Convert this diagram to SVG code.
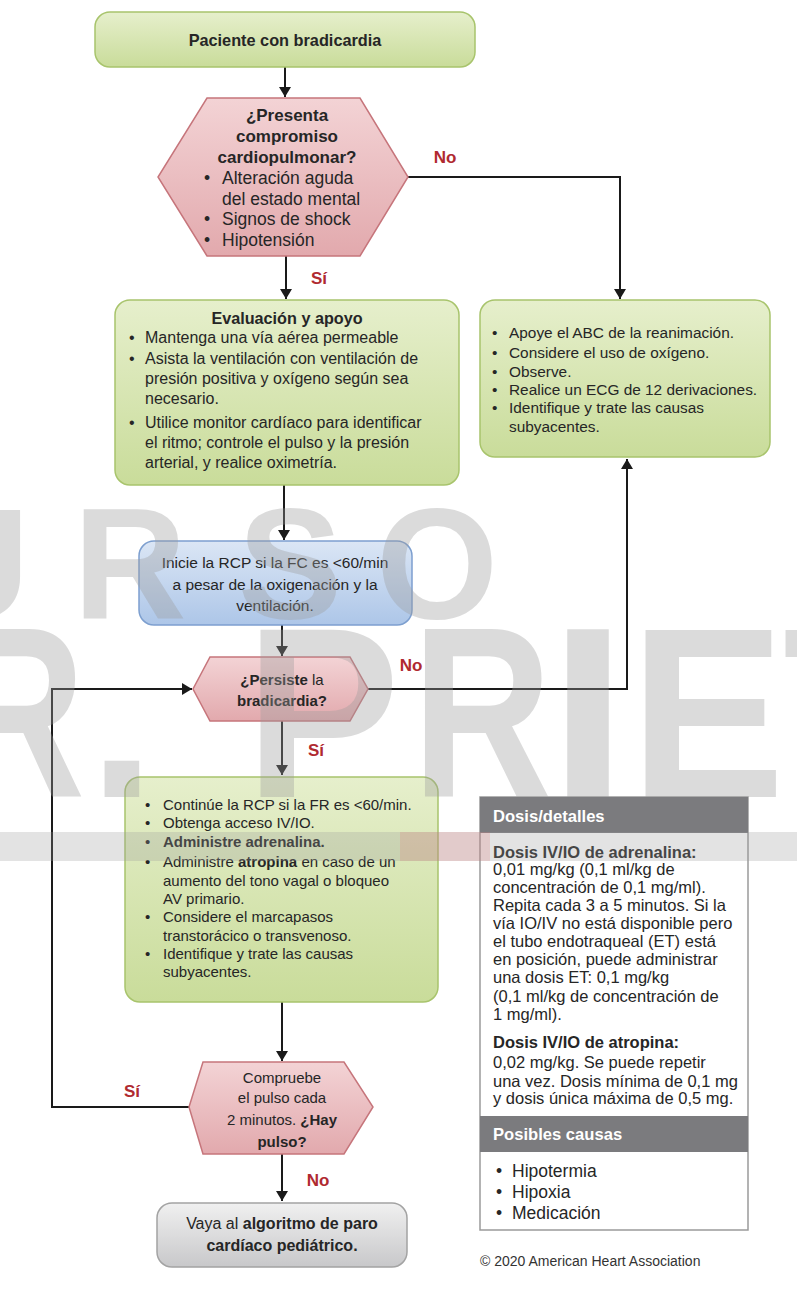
<svg xmlns="http://www.w3.org/2000/svg" width="797" height="1289" viewBox="0 0 797 1289">
<defs>
<linearGradient id="gGreen" x1="0" y1="0" x2="0" y2="1"><stop offset="0" stop-color="#e6efcc"/><stop offset="1" stop-color="#c9dc9a"/></linearGradient>
<linearGradient id="gRed" x1="0" y1="0" x2="0" y2="1"><stop offset="0" stop-color="#f3d3d5"/><stop offset="1" stop-color="#e2a9ad"/></linearGradient>
<linearGradient id="gBlue" x1="0" y1="0" x2="0" y2="1"><stop offset="0" stop-color="#dbe6f5"/><stop offset="1" stop-color="#adc6e8"/></linearGradient>
<linearGradient id="gGray" x1="0" y1="0" x2="0" y2="1"><stop offset="0" stop-color="#f0f0f0"/><stop offset="1" stop-color="#c8c8ca"/></linearGradient>
<marker id="arr" viewBox="0 0 10 12" refX="10" refY="6" markerWidth="10" markerHeight="12" markerUnits="userSpaceOnUse" orient="auto"><path d="M0,0 L10,6 L0,12 Z" fill="#1a1a1a"/></marker>
<style>
text{font-family:"Liberation Sans",Arial,sans-serif;fill:#262626}
.b{font-weight:bold}
.green{fill:url(#gGreen);stroke:#a8c46c;stroke-width:1.5}
.red{fill:url(#gRed);stroke:#c6757b;stroke-width:1.5}
.blue{fill:url(#gBlue);stroke:#7d9fcf;stroke-width:1.5}
.gray{fill:url(#gGray);stroke:#a3a3a3;stroke-width:1.5}
.lbl{fill:#b02a30;font-weight:bold;font-size:17px}
.conn{fill:none;stroke:#1a1a1a;stroke-width:2}
.wm{fill:#9a9a9a;fill-opacity:0.36;font-family:"Liberation Sans",Arial,sans-serif;font-weight:bold}
</style>
</defs>

<g id="connectors">
<path class="conn" d="M285,67 V97" marker-end="url(#arr)"/>
<path class="conn" d="M286,256 V299" marker-end="url(#arr)"/>
<path class="conn" d="M408,177 H620 V299" marker-end="url(#arr)"/>
<path class="conn" d="M284,485 V540" marker-end="url(#arr)"/>
<path class="conn" d="M282,625 V656" marker-end="url(#arr)"/>
<path class="conn" d="M368,689 H627 V459" marker-end="url(#arr)"/>
<path class="conn" d="M282,721 V775" marker-end="url(#arr)"/>
<path class="conn" d="M282,1002 V1061" marker-end="url(#arr)"/>
<path class="conn" d="M189,1107 H52 V689 H192" marker-end="url(#arr)"/>
<path class="conn" d="M282,1154 V1201" marker-end="url(#arr)"/>
<text class="lbl" x="445" y="163" text-anchor="middle">No</text>
<text class="lbl" x="319" y="284" text-anchor="middle">Sí</text>
<text class="lbl" x="411" y="671" text-anchor="middle">No</text>
<text class="lbl" x="316" y="756" text-anchor="middle">Sí</text>
<text class="lbl" x="132" y="1097" text-anchor="middle">Sí</text>
<text class="lbl" x="318" y="1186" text-anchor="middle">No</text>
</g>

<g id="start">
<rect class="green" x="95" y="12" width="380" height="55" rx="15"/>
<text class="b" font-size="16.3" x="285" y="46" text-anchor="middle">Paciente con bradicardia</text>
</g>

<g id="decision1">
<polygon class="red" points="207,98 360,98 408,177 360,256 207,256 158,177"/>
<g class="b" font-size="17">
<text x="287" y="121" text-anchor="middle">¿Presenta</text>
<text x="287" y="142" text-anchor="middle">compromiso</text>
<text x="287" y="163" text-anchor="middle">cardiopulmonar?</text>
</g>
<g font-size="17.5">
<text x="204" y="184">•</text><text x="222" y="184">Alteración aguda</text>
<text x="222" y="205">del estado mental</text>
<text x="204" y="225">•</text><text x="222" y="225">Signos de shock</text>
<text x="204" y="246">•</text><text x="222" y="246">Hipotensión</text>
</g>
</g>

<g id="evaluacion">
<rect class="green" x="115" y="300" width="344" height="185" rx="15"/>
<text class="b" font-size="16.2" x="287" y="324" text-anchor="middle">Evaluación y apoyo</text>
<g font-size="16">
<text x="129" y="343">•</text><text x="145" y="343">Mantenga una vía aérea permeable</text>
<text x="129" y="364">•</text><text x="145" y="364">Asista la ventilación con ventilación de</text>
<text x="145" y="384">presión positiva y oxígeno según sea</text>
<text x="145" y="404">necesario.</text>
<text x="129" y="428">•</text><text x="145" y="428">Utilice monitor cardíaco para identificar</text>
<text x="145" y="448">el ritmo; controle el pulso y la presión</text>
<text x="145" y="468">arterial, y realice oximetría.</text>
</g>
</g>

<g id="soporte">
<rect class="green" x="480" y="300" width="290" height="157" rx="15"/>
<g font-size="15.4">
<text x="492" y="338">•</text><text x="509" y="338">Apoye el ABC de la reanimación.</text>
<text x="492" y="358">•</text><text x="509" y="358">Considere el uso de oxígeno.</text>
<text x="492" y="377">•</text><text x="509" y="377">Observe.</text>
<text x="492" y="395">•</text><text x="509" y="395">Realice un ECG de 12 derivaciones.</text>
<text x="492" y="413">•</text><text x="509" y="413">Identifique y trate las causas</text>
<text x="509" y="432">subyacentes.</text>
</g>
</g>

<g id="rcp">
<rect class="blue" x="139" y="541" width="273" height="84" rx="15"/>
<g font-size="15.5">
<text x="275" y="568" text-anchor="middle">Inicie la RCP si la FC es &lt;60/min</text>
<text x="275" y="590" text-anchor="middle">a pesar de la oxigenación y la</text>
<text x="275" y="611" text-anchor="middle">ventilación.</text>
</g>
</g>

<g id="decision2">
<polygon class="red" points="210,657 350,657 368,689 350,721 210,721 193,689"/>
<text font-size="15" x="282" y="685" text-anchor="middle"><tspan class="b">¿Persiste</tspan> la</text>
<text class="b" font-size="15" x="282" y="706" text-anchor="middle">bradicardia?</text>
</g>

<g id="acciones">
<rect class="green" x="125" y="777" width="313" height="225" rx="15"/>
<g font-size="15">
<text x="145" y="810">•</text><text x="163" y="810">Continúe la RCP si la FR es &lt;60/min.</text>
<text x="145" y="828">•</text><text x="163" y="828">Obtenga acceso IV/IO.</text>
<text x="145" y="847">•</text><text class="b" x="163" y="847">Administre adrenalina.</text>
<text x="145" y="867">•</text><text x="163" y="867">Administre <tspan class="b">atropina</tspan> en caso de un</text>
<text x="163" y="886">aumento del tono vagal o bloqueo</text>
<text x="163" y="904">AV primario.</text>
<text x="145" y="922">•</text><text x="163" y="922">Considere el marcapasos</text>
<text x="163" y="941">transtorácico o transvenoso.</text>
<text x="145" y="959">•</text><text x="163" y="959">Identifique y trate las causas</text>
<text x="163" y="977">subyacentes.</text>
</g>
</g>

<g id="decision3">
<polygon class="red" points="203,1062 344,1062 373,1107 344,1154 203,1154 189,1107"/>
<g font-size="15">
<text x="282" y="1083" text-anchor="middle">Compruebe</text>
<text x="282" y="1103" text-anchor="middle">el pulso cada</text>
<text x="282" y="1125" text-anchor="middle">2 minutos. <tspan class="b">¿Hay</tspan></text>
<text class="b" x="282" y="1147" text-anchor="middle">pulso?</text>
</g>
</g>

<g id="paro">
<rect class="gray" x="157" y="1203" width="250" height="64" rx="15"/>
<g font-size="16">
<text x="282" y="1229" text-anchor="middle">Vaya al <tspan class="b">algoritmo de paro</tspan></text>
<text class="b" x="282" y="1251" text-anchor="middle">cardíaco pediátrico.</text>
</g>
</g>

<g id="dosis">
<rect x="480" y="797" width="268" height="433" fill="#ffffff" stroke="#9a9a9a" stroke-width="1.5"/>
<rect x="480" y="797" width="268" height="36" fill="#7b7b7e"/>
<text class="b" font-size="16.6" x="493" y="822" style="fill:#ffffff">Dosis/detalles</text>
<g font-size="16.5">
<text class="b" x="493" y="858">Dosis IV/IO de adrenalina:</text>
<text x="493" y="875">0,01 mg/kg (0,1 ml/kg de</text>
<text x="493" y="893">concentración de 0,1 mg/ml).</text>
<text x="493" y="911">Repita cada 3 a 5 minutos. Si la</text>
<text x="493" y="929">vía IO/IV no está disponible pero</text>
<text x="493" y="947">el tubo endotraqueal (ET) está</text>
<text x="493" y="965">en posición, puede administrar</text>
<text x="493" y="983">una dosis ET: 0,1 mg/kg</text>
<text x="493" y="1002">(0,1 ml/kg de concentración de</text>
<text x="493" y="1020">1 mg/ml).</text>
<text class="b" x="493" y="1048">Dosis IV/IO de atropina:</text>
<text x="493" y="1068">0,02 mg/kg. Se puede repetir</text>
<text x="493" y="1087">una vez. Dosis mínima de 0,1 mg</text>
<text x="493" y="1104">y dosis única máxima de 0,5 mg.</text>
</g>
<rect x="480" y="1116" width="268" height="36" fill="#7b7b7e"/>
<text class="b" font-size="16.6" x="493" y="1140" style="fill:#ffffff">Posibles causas</text>
<g font-size="17.5">
<text x="496" y="1177">•</text><text x="512" y="1177">Hipotermia</text>
<text x="496" y="1198">•</text><text x="512" y="1198">Hipoxia</text>
<text x="496" y="1219">•</text><text x="512" y="1219">Medicación</text>
</g>
</g>

<text x="480" y="1266" font-size="14" style="fill:#333">© 2020 American Heart Association</text>

<g id="watermark">
<text class="wm" x="-27" y="618" font-size="157" text-anchor="middle">U</text>
<text class="wm" x="130" y="618" font-size="157" text-anchor="middle">R</text>
<text class="wm" x="290" y="618" font-size="157" text-anchor="middle">S</text>
<text class="wm" x="437" y="618" font-size="157" text-anchor="middle">O</text>
<text class="wm" x="-45" y="797" font-size="244" textLength="130" lengthAdjust="spacingAndGlyphs">R</text>
<text class="wm" x="88" y="797" font-size="244" textLength="68" lengthAdjust="spacingAndGlyphs">.</text>
<text class="wm" x="245" y="797" font-size="244" textLength="155" lengthAdjust="spacingAndGlyphs">P</text>
<text class="wm" x="412" y="797" font-size="244" textLength="140" lengthAdjust="spacingAndGlyphs">R</text>
<text class="wm" x="548" y="797" font-size="244" textLength="80" lengthAdjust="spacingAndGlyphs">I</text>
<text class="wm" x="630" y="797" font-size="244" textLength="155" lengthAdjust="spacingAndGlyphs">E</text>
<text class="wm" x="783" y="797" font-size="244" textLength="140" lengthAdjust="spacingAndGlyphs">T</text>
<rect x="0" y="832" width="797" height="29" fill="#9a9a9a" fill-opacity="0.28"/>
<rect x="400" y="832" width="90" height="29" fill="#e07070" fill-opacity="0.2"/>
</g>
</svg>
